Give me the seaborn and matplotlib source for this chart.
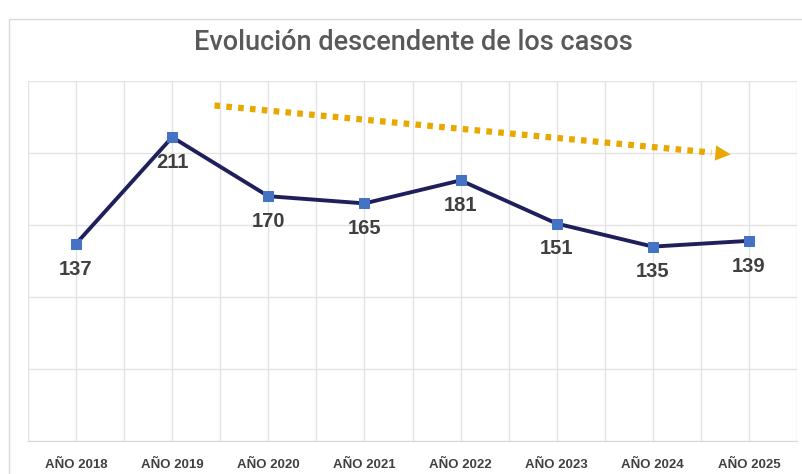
import matplotlib
matplotlib.use("Agg")
import numpy as np
import pandas as pd
import seaborn as sns
import matplotlib.pyplot as plt
from matplotlib.patches import Rectangle

years = ["AÑO 2018", "AÑO 2019", "AÑO 2020", "AÑO 2021",
         "AÑO 2022", "AÑO 2023", "AÑO 2024", "AÑO 2025"]
cases = [137, 211, 170, 165, 181, 151, 135, 139]

# trend arrow (start / end), in data units
trend_x = [1.44, 6.81]
trend_y = [233, 199]

df = pd.DataFrame({"year": years, "cases": cases})

sns.set_style("white")
plt.rcParams["font.family"] = ["Liberation Sans", "DejaVu Sans"]

fig = plt.figure(figsize=(8.03, 4.74), dpi=100)
ax = fig.add_axes([28 / 803, 1 - 441 / 474, (797 - 28) / 803, (441 - 81) / 474])

# outer chart border
fig.patches.append(Rectangle((9 / 803, -0.01), 1.0, 1 - 19 / 474 + 0.01,
                             transform=fig.transFigure, fill=False,
                             edgecolor="#d9d9d9", linewidth=1.0))

sns.lineplot(data=df, x="year", y="cases", ax=ax, color="#1f1f5c",
             linewidth=2.8, marker="s", markersize=6.5,
             markerfacecolor="#4472c4", markeredgecolor="#4472c4", sort=False)

for i, v in enumerate(cases):
    ax.text(i, v - 11, str(v), ha="center", va="top", fontsize=14.5,
            fontweight="bold", color="#404040")

# dotted trend arrow
ax.plot([trend_x[0], trend_x[1] - 0.2], [trend_y[0], trend_y[1] + 1.3],
        color="#e8a800", linewidth=4.5, linestyle=(0, (0.9, 1.0)),
        solid_capstyle="butt", dash_capstyle="butt")
ax.annotate("", xy=(trend_x[1], trend_y[1]),
            xytext=(trend_x[1] - 0.22, trend_y[1] + 1.4),
            arrowprops=dict(arrowstyle="-|>,head_length=1.1,head_width=0.55",
                            color="#e8a800", lw=0, shrinkA=0, shrinkB=0))

ax.set_xlim(-0.5, len(years) - 0.5)
ax.set_ylim(0, 250)
ax.set_yticks(np.arange(0, 251, 50))
ax.set_yticklabels([])
ax.set_xticks(np.arange(-0.5, len(years), 1.0), minor=False)
ax.set_xticks(np.arange(0, len(years)), minor=True)
ax.set_xticklabels([])
ax.set_xticklabels(years, minor=True, fontsize=9.5, fontweight="bold",
                   color="#404040")
ax.tick_params(axis="both", which="both", length=0)
ax.tick_params(axis="x", which="minor", pad=13)
ax.grid(True, which="both", axis="x", color="#e3e3e3", linewidth=1)
ax.grid(True, which="major", axis="y", color="#e3e3e3", linewidth=1)
ax.set_xlabel("")
ax.set_ylabel("")
for s in ["top", "right", "left"]:
    ax.spines[s].set_visible(False)
ax.spines["bottom"].set_color("#d9d9d9")

fig.text(413 / 803, 1 - 42 / 474, "Evolución descendente de los casos",
         ha="center", va="center", fontsize=19.5, color="#595959",
         family=["Roboto", "DejaVu Sans"], fontweight="medium")

fig.savefig("out.png", dpi=100)
